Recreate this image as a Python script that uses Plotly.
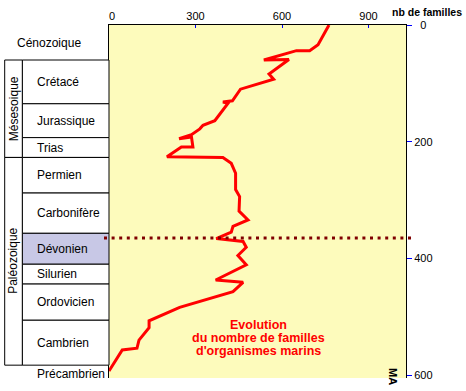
import plotly.graph_objects as go

# ---- data ----
# red curve: number of marine families (x) vs age in MA (y)
families = [763, 725, 696, 650, 537, 624, 555, 571, 456, 428, 395, 413, 367, 326, 315,
            286, 243, 286, 291, 251, 201, 395, 424, 439, 439, 453, 451, 482, 430, 424,
            372, 465, 476, 447, 476, 370, 465, 430, 245, 139, 139, 104, 97, 46, 0]
age_ma = [0, 34, 44, 44, 60, 59, 84, 93, 110, 130, 132, 134, 164, 172, 178,
          188, 195, 192, 209, 209, 226, 227, 237, 254, 282, 294, 319, 334, 345, 355,
          366, 371, 381, 395, 411, 437, 441, 457, 484, 507, 519, 540, 554, 557, 593]

# geological table
period_names = ["Cénozoique", "Crétacé", "Jurassique", "Trias", "Permien", "Carbonifère",
                "Dévonien", "Silurien", "Ordovicien", "Cambrien", "Précambrien"]
period_bounds = [0, 60, 135, 193, 227, 288, 357, 410, 444, 506, 583, 612]
era_names = ["Mésesoique", "Paléozoique"]
era_bounds = [(60, 227), (227, 583)]
highlight_period = "Dévonien"
marker_age = 365

x_ticks = [0, 300, 600, 900]
x_ticktext = ["\u20070", "300", "600", "900"]
y_ticks = [0, 200, 400, 600]
y_ticktext = ["\u20070", "200", "400", "600"]

FONT = "Liberation Sans, Arial, sans-serif"
W, H = 466, 391
ML, MR, MT, MB = 109, 60, 23, 10
PW = W - ML - MR
PH = H - MT - MB


def px_x(px):
    return (px - ML) / PW


def px_y(py):
    return (H - MB - py) / PH


fig = go.Figure()
fig.add_trace(go.Scatter(x=families, y=age_ma, mode="lines",
                         line=dict(color="#FF0000", width=3), hoverinfo="skip",
                         showlegend=False))

shapes = []
annotations = []

col_era0, col_era1, col_per1 = px_x(4.7), px_x(22.3), 0.0

# period cells (skip Cénozoique and Précambrien, which have no box)
for i, name in enumerate(period_names):
    y0, y1 = period_bounds[i], period_bounds[i + 1]
    mid = (y0 + y1) / 2
    if 0 < i < len(period_names) - 1:
        shapes.append(dict(type="rect", xref="paper", yref="y", x0=col_era1, x1=col_per1,
                           y0=y0, y1=y1,
                           fillcolor="#C8C8E6" if name == highlight_period else "white",
                           line=dict(color="black", width=1), layer="above"))
    if i == 0:
        annotations.append(dict(x=px_x(15), y=mid, xref="paper", yref="y", text=name,
                                showarrow=False, xanchor="left", yanchor="middle",
                                font=dict(size=12, color="black", family=FONT)))
    else:
        annotations.append(dict(x=px_x(35), y=mid, xref="paper", yref="y", text=name,
                                showarrow=False, xanchor="left", yanchor="middle",
                                font=dict(size=12, color="black", family=FONT)))

# era boxes
for name, (y0, y1) in zip(era_names, era_bounds):
    shapes.append(dict(type="rect", xref="paper", yref="y", x0=col_era0, x1=col_era1,
                       y0=y0, y1=y1, fillcolor="white",
                       line=dict(color="black", width=1), layer="above"))
    annotations.append(dict(x=(col_era0 + col_era1) / 2, y=(y0 + y1) / 2, xref="paper",
                            yref="y", text=name, showarrow=False, textangle=-90,
                            xanchor="center", yanchor="middle",
                            font=dict(size=12, color="black", family=FONT)))

# dotted marker line
shapes.append(dict(type="line", xref="paper", yref="y", x0=px_x(104), x1=px_x(412),
                   y0=marker_age, y1=marker_age,
                   line=dict(color="#800000", width=3, dash="3px,4.6px"), layer="above"))

# texts
for txt, py in zip(["Evolution", "du nombre de familles", "d'organismes marins"],
                   [327.7, 340.7, 353.3]):
    annotations.append(dict(x=px_x(258), y=px_y(py), xref="paper", yref="paper", text="<b>%s</b>" % txt,
                            showarrow=False, xanchor="center", yanchor="middle",
                            font=dict(size=12.5, color="#FF0000", family=FONT)))

annotations.append(dict(x=px_x(427), y=px_y(10), xref="paper", yref="paper",
                        text="<b>nb de familles</b>", showarrow=False, xanchor="center",
                        yanchor="middle", font=dict(size=10.5, color="black", family=FONT)))
annotations.append(dict(x=px_x(393), y=px_y(379), xref="paper", yref="paper",
                        text="<b>MA</b>", showarrow=False, textangle=90, xanchor="center",
                        yanchor="middle", font=dict(size=11, color="black", family=FONT)))

fig.update_layout(
    width=W, height=H,
    margin=dict(l=ML, r=MR, t=MT, b=MB, pad=0),
    paper_bgcolor="white", plot_bgcolor="#FDFBBC",
    font=dict(family=FONT, size=11, color="black"),
    shapes=shapes, annotations=annotations, showlegend=False,
    xaxis=dict(side="top", range=[0, 1030], tickvals=x_ticks, ticktext=x_ticktext,
               ticks="inside", ticklen=3, tickcolor="blue", tickwidth=1,
               showline=True, linecolor="black", linewidth=1, mirror=False,
               showgrid=False, zeroline=False, fixedrange=True,
               tickfont=dict(size=11, color="black", family=FONT)),
    yaxis=dict(side="right", range=[605, 0], tickvals=y_ticks, ticktext=y_ticktext,
               ticks="outside", ticklen=5, tickcolor="blue", tickwidth=1,
               showline=True, linecolor="black", linewidth=1, mirror=True,
               showgrid=False, zeroline=False, fixedrange=True,
               tickfont=dict(size=11, color="black", family=FONT)),
)

fig.write_html("out.html", config={"displayModeBar": False},
               post_script="document.body.style.margin='0';document.body.style.padding='0';"
                           "document.body.style.overflow='hidden';")
